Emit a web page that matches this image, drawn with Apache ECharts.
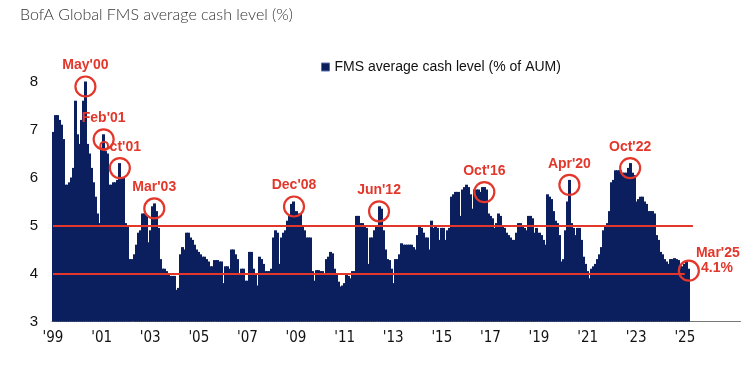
<!DOCTYPE html>
<html>
<head>
<meta charset="utf-8">
<script src="https://cdn.jsdelivr.net/npm/echarts@6/dist/echarts.min.js"></script>
<style>
html,body{margin:0;padding:0;background:#fff;}
#chart{width:742px;height:366px;}
</style>
</head>
<body>
<div id="chart"></div>
<script>
// Monthly FMS average cash level (%), Jan 1999 .. Mar 2025
const y1999 = [6.95, 7.3, 7.3, 7.2, 7.1, 6.8, 5.85, 5.85, 5.9, 6.0, 6.2, 7.6];
const y2000 = [6.9, 6.7, 7.2, 7.6, 8.0, 6.7, 6.5, 6.2, 5.9, 5.6, 5.25, 5.05];
const y2001 = [6.6, 6.9, 6.55, 6.5, 5.85, 5.85, 5.9, 5.9, 5.95, 6.3, 6.0, 6.0];
const y2002 = [5.05, 5.0, 4.3, 4.3, 4.4, 4.6, 4.85, 4.9, 5.25, 5.25, 5.2, 4.65];
const y2003 = [4.9, 5.4, 5.46, 5.3, 4.95, 4.3, 4.1, 4.1, 4.05, 3.97, 3.95, 3.95];
const y2004 = [3.95, 3.66, 3.7, 4.4, 4.55, 4.5, 4.85, 4.85, 4.75, 4.7, 4.6, 4.5];
const y2005 = [4.45, 4.4, 4.35, 4.35, 4.3, 4.25, 4.15, 4.15, 4.28, 4.28, 4.25, 4.25];
const y2006 = [3.8, 4.15, 4.15, 4.1, 4.5, 4.5, 4.4, 4.3, 4.0, 4.1, 4.1, 3.85];
const y2007 = [3.85, 4.45, 4.45, 4.1, 4.0, 3.75, 4.35, 4.3, 4.2, 4.05, 4.05, 4.05];
const y2008 = [4.1, 4.75, 4.9, 4.85, 4.2, 4.75, 4.85, 4.9, 5.1, 5.2, 5.45, 5.5];
const y2009 = [5.3, 5.25, 5.25, 5.0, 4.9, 4.75, 4.75, 4.75, 4.05, 3.85, 4.07, 4.07];
const y2010 = [4.05, 4.05, 4.0, 4.3, 4.35, 4.45, 4.42, 4.1, 4.0, 3.83, 3.73, 3.75];
const y2011 = [3.8, 4.0, 3.95, 3.9, 4.05, 4.05, 5.2, 5.2, 5.05, 5.05, 5.0, 4.95];
const y2012 = [4.2, 4.75, 4.75, 4.9, 5.0, 5.4, 5.35, 4.9, 4.5, 4.3, 4.28, 4.1];
const y2013 = [3.8, 4.3, 4.3, 4.4, 4.63, 4.6, 4.6, 4.6, 4.6, 4.6, 4.55, 4.5];
const y2014 = [4.8, 5.0, 4.95, 4.85, 4.75, 4.75, 4.5, 5.1, 4.95, 5.0, 4.95, 4.7];
const y2015 = [4.95, 4.95, 4.7, 4.9, 4.95, 5.6, 5.65, 5.7, 5.7, 5.2, 5.75, 5.8];
const y2016 = [5.85, 5.8, 5.65, 5.35, 5.75, 5.75, 5.75, 5.7, 5.8, 5.8, 5.75, 5.25];
const y2017 = [5.2, 5.15, 4.95, 5.05, 5.25, 5.2, 5.0, 4.95, 4.85, 4.8, 4.75, 4.7];
const y2018 = [4.7, 4.85, 5.05, 5.05, 5.0, 4.95, 4.9, 5.2, 5.2, 5.15, 4.85, 4.95];
const y2019 = [4.85, 4.8, 4.7, 4.6, 5.65, 5.6, 5.55, 5.3, 5.1, 5.05, 4.8, 4.25];
const y2020 = [4.3, 4.9, 5.5, 5.95, 5.05, 4.95, 4.8, 4.95, 4.95, 4.7, 4.35, 4.2];
const y2021 = [4.05, 3.9, 4.1, 4.15, 4.2, 4.3, 4.4, 4.55, 4.9, 5.0, 5.05, 5.3];
const y2022 = [5.9, 5.95, 6.15, 6.15, 6.15, 6.1, 6.1, 6.1, 6.2, 6.3, 6.1, 6.05];
const y2023 = [5.5, 5.55, 5.6, 5.6, 5.5, 5.45, 5.3, 5.3, 5.3, 5.25, 4.8, 4.7];
const y2024 = [4.45, 4.4, 4.3, 4.25, 4.2, 4.3, 4.3, 4.32, 4.3, 4.28, 4.15, 4.15];
const y2025 = [4.2, 4.25, 4.1];

const cashLevel = [].concat(y1999, y2000, y2001, y2002, y2003, y2004, y2005, y2006,
  y2007, y2008, y2009, y2010, y2011, y2012, y2013, y2014, y2015, y2016, y2017,
  y2018, y2019, y2020, y2021, y2022, y2023, y2024, y2025);

const xTickLabels = ["'99", "'01", "'03", "'05", "'07", "'09", "'11", "'13", "'15", "'17", "'19", "'21", "'23", "'25"];
const yTicks = [3, 4, 5, 6, 7, 8];
const refLevels = [5, 4];
const refLineEnds = ['2025-05', '2025-01'];

const annotations = [
  { label: "May'00", month: '2000-05' },
  { label: "Feb'01", month: '2001-02' },
  { label: "Oct'01", month: '2001-10' },
  { label: "Mar'03", month: '2003-03' },
  { label: "Dec'08", month: '2008-12' },
  { label: "Jun'12", month: '2012-06' },
  { label: "Oct'16", month: '2016-10' },
  { label: "Apr'20", month: '2020-04' },
  { label: "Oct'22", month: '2022-10' }
];
const lastLabel = "Mar'25";

// category axis (monthly), extended past the data like the original axis line
const startYear = 1999;
const axisMonths = 340;
const months = [];
for (let i = 0; i < axisMonths; i++) {
  const y = startYear + Math.floor(i / 12);
  const m = (i % 12) + 1;
  months.push(y + '-' + String(m).padStart(2, '0'));
}

const RED = '#e3372b';
const NAVY = '#0b1f5e';
const lastIdx = cashLevel.length - 1;
const seriesData = cashLevel.map((v, i) => [months[i], v]);

const markPoints = annotations.map(a => {
  const idx = months.indexOf(a.month);
  return {
    name: a.label,
    coord: [a.month, cashLevel[idx]],
    symbolOffset: [0, 5],
    label: { position: 'top', distance: 3, formatter: '{b}' }
  };
});
markPoints.push({
  name: lastLabel,
  coord: [months[lastIdx], cashLevel[lastIdx]],
  symbolOffset: [0, 2],
  label: {
    position: 'right',
    distance: -4,
    offset: [0, -10],
    formatter: '{a|' + lastLabel + '}\n{c|' + cashLevel[lastIdx].toFixed(1) + '%}',
    rich: {
      a: { color: RED, fontSize: 14, fontWeight: 'bold', fontFamily: 'Liberation Sans, Arial, sans-serif', lineHeight: 15 },
      c: { color: RED, fontSize: 14, fontWeight: 'bold', fontFamily: 'Liberation Sans, Arial, sans-serif', lineHeight: 15, padding: [0, 0, 0, 5] }
    }
  }
});

function renderBar(params, api) {
  const idx = api.value(0);
  const top = api.coord([idx, api.value(1)]);
  const base = api.coord([idx, yTicks[0]]);
  const w = api.size([1, 0])[0];
  const x0 = Math.floor(top[0] - w / 2);
  const x1 = Math.ceil(top[0] + w / 2);
  return {
    type: 'rect',
    shape: { x: x0, y: top[1], width: x1 - x0, height: base[1] - top[1] },
    style: { fill: NAVY }
  };
}

const chart = echarts.init(document.getElementById('chart'), null, { renderer: 'canvas' });
chart.setOption({
  animation: false,
  backgroundColor: '#ffffff',
  title: {
    text: 'BofA Global FMS average cash level (%)',
    left: 15,
    top: 2,
    textStyle: { fontFamily: 'Lato, "Open Sans", sans-serif', fontWeight: 300, fontSize: 16, color: '#333' }
  },
  legend: {
    left: 316,
    top: 55,
    icon: 'rect',
    itemWidth: 8,
    itemHeight: 8,
    textStyle: { fontFamily: 'Liberation Sans, Arial, sans-serif', fontSize: 14, color: '#111' },
    data: [{ name: 'FMS average cash level (% of AUM)', itemStyle: { color: NAVY, borderColor: '#5b6fae', borderWidth: 1 } }]
  },
  grid: { left: 52, right: 1.5, top: 81.5, bottom: 44.5, containLabel: false },
  xAxis: {
    type: 'category',
    data: months,
    boundaryGap: true,
    axisLine: { show: true, lineStyle: { color: '#777', width: 1 } },
    axisTick: { show: false },
    axisLabel: {
      interval: function (idx) { return idx % 24 === 0 && idx / 24 < xTickLabels.length; },
      formatter: function (v, idx) { return xTickLabels[idx / 24] || ''; },
      fontFamily: '"Liberation Sans Narrow", "DejaVu Sans Condensed", Arial, sans-serif',
      fontSize: 15,
      color: '#111',
      margin: 9
    },
    splitLine: { show: false }
  },
  yAxis: {
    type: 'value',
    min: yTicks[0],
    max: yTicks[yTicks.length - 1],
    interval: 1,
    axisLine: { show: false },
    axisTick: { show: false },
    splitLine: { show: false },
    axisLabel: {
      fontFamily: '"Liberation Sans Narrow", Arial, sans-serif',
      fontSize: 15,
      color: '#111',
      margin: 14
    }
  },
  series: [{
    name: 'FMS average cash level (% of AUM)',
    type: 'custom',
    renderItem: renderBar,
    encode: { x: 0, y: 1 },
    data: seriesData,
    itemStyle: { color: NAVY },
    silent: true,
    z: 2,
    markLine: {
      silent: true,
      symbol: ['none', 'none'],
      label: { show: false },
      lineStyle: { color: RED, width: 2, type: 'solid' },
      data: refLevels.map((lv, k) => [{ coord: [months[0], lv] }, { coord: [refLineEnds[k], lv] }])
    },
    markPoint: {
      silent: true,
      symbol: 'circle',
      symbolSize: 20,
      itemStyle: { color: 'rgba(0,0,0,0)', borderColor: RED, borderWidth: 2.2 },
      label: { show: true, color: RED, fontSize: 14, fontWeight: 'bold', fontFamily: 'Liberation Sans, Arial, sans-serif' },
      data: markPoints
    }
  }]
});
</script>
</body>
</html>
